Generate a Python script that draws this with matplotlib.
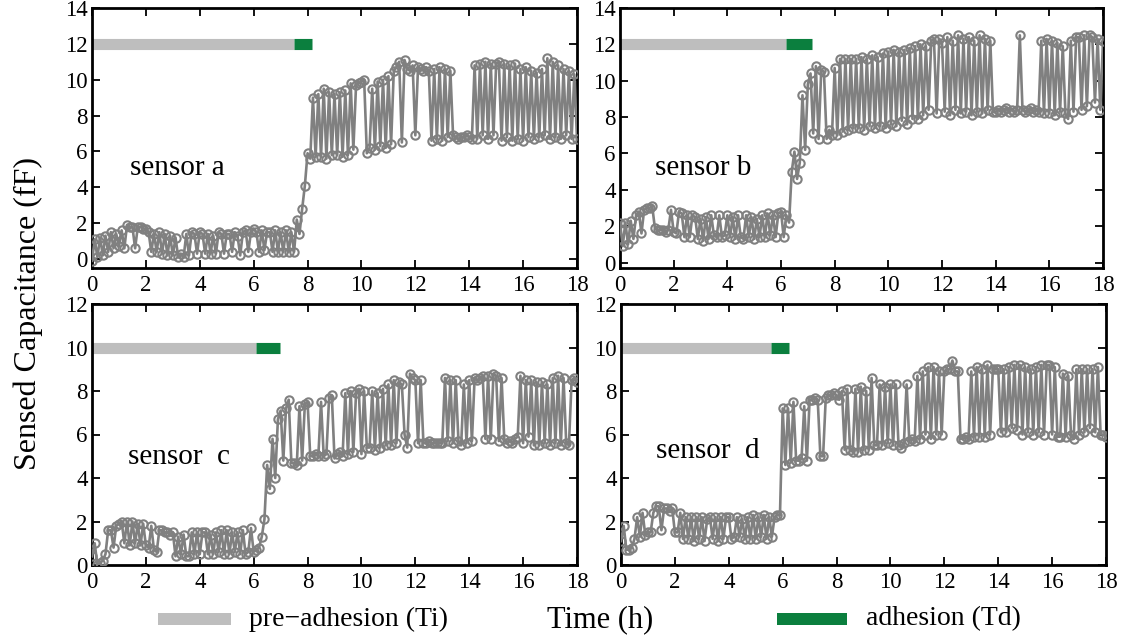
import numpy as np
import matplotlib
matplotlib.use("Agg")
import matplotlib.pyplot as plt
from matplotlib.patches import Rectangle

plt.rcParams['font.family'] = ['Liberation Serif', 'DejaVu Serif']

# ---------------- data ----------------
hours = np.linspace(0, 18, 181)

sensor_a = [
    -0.1, 1.1, 0.1, 1.2, 0.2, 1.3, 0.4, 1.5, 0.6, 1.4,
    0.7, 1.6, 0.6, 1.9, 1.8, 1.8, 0.6, 1.8, 1.8, 1.7,
    1.7, 1.5, 0.4, 1.4, 0.4, 1.5, 0.3, 1.4, 0.2, 1.3,
    0.2, 1.2, 0.1, 0.3, 0.1, 1.4, 0.2, 1.5, 1.4, 0.3,
    1.5, 1.4, 0.3, 1.4, 0.3, 1.3, 0.3, 1.5, 1.4, 0.3,
    1.4, 1.4, 0.4, 1.5, 1.3, 0.2, 1.5, 1.6, 0.4, 1.5,
    1.7, 1.5, 0.4, 1.6, 0.5, 1.5, 1.5, 0.4, 1.6, 0.4,
    1.5, 0.4, 1.6, 0.4, 1.5, 0.4, 2.2, 1.4, 2.8, 4.1,
    5.9, 5.6, 9.0, 5.7, 9.2, 5.7, 9.5, 5.6, 9.3, 5.8,
    9.2, 5.8, 9.3, 5.7, 9.4, 5.8, 9.8, 6.1, 9.7, 9.8,
    9.9, 10.0, 5.9, 6.2, 9.5, 6.1, 9.9, 6.3, 10.0, 6.2,
    10.2, 6.4, 10.5, 10.7, 11.0, 6.5, 11.1, 10.6, 10.5, 10.8,
    6.9, 10.7, 10.6, 10.5, 10.7, 10.5, 6.6, 10.6, 6.7, 10.7,
    6.6, 10.6, 6.8, 10.5, 6.9, 6.8, 6.7, 6.8, 6.8, 6.9,
    6.8, 6.7, 10.8, 6.7, 10.9, 6.9, 11.0, 6.7, 10.9, 6.9,
    10.9, 11.0, 6.6, 10.9, 6.8, 10.8, 6.6, 10.9, 6.7, 10.6,
    6.6, 10.7, 6.8, 10.5, 6.7, 10.4, 6.8, 10.6, 6.9, 11.2,
    6.7, 11.0, 6.8, 10.8, 6.7, 10.6, 6.9, 10.5, 6.7, 10.3,
    6.7,
]

sensor_b = [
    2.2, 0.9, 2.2, 1.0, 2.3, 1.3, 2.6, 2.8, 1.6, 2.9,
    3.0, 3.0, 3.1, 1.9, 1.8, 1.8, 1.8, 1.7, 1.8, 2.9,
    1.7, 1.6, 2.8, 2.7, 1.4, 2.6, 1.4, 2.6, 2.5, 1.3,
    2.4, 1.2, 2.5, 1.3, 2.6, 1.5, 1.4, 2.6, 1.4, 1.5,
    2.6, 1.4, 2.5, 1.3, 2.6, 1.4, 1.3, 2.6, 1.4, 2.5,
    1.3, 2.4, 1.4, 2.6, 1.4, 2.7, 1.5, 2.6, 1.4, 2.7,
    2.8, 1.4, 2.6, 2.2, 5.0, 6.1, 4.6, 5.5, 9.2, 6.2,
    9.8, 10.4, 7.1, 10.8, 6.8, 10.6, 10.5, 6.8, 7.3, 7.0,
    10.7, 7.0, 11.2, 7.2, 11.2, 7.3, 11.2, 7.4, 11.2, 7.4,
    11.3, 7.3, 11.2, 7.5, 11.4, 7.4, 11.3, 7.5, 11.5, 7.4,
    11.6, 7.6, 11.7, 7.5, 11.6, 7.8, 11.7, 7.6, 11.8, 7.9,
    11.9, 7.9, 12.0, 8.1, 11.9, 8.4, 12.2, 12.3, 8.2, 12.3,
    12.1, 8.3, 12.4, 8.1, 12.2, 8.4, 12.5, 8.2, 12.3, 8.3,
    12.4, 8.1, 12.2, 8.3, 12.5, 8.2, 12.3, 8.4, 12.2, 8.3,
    8.3, 8.4, 8.3, 8.4, 8.5, 8.3, 8.4, 8.3, 8.4, 12.5,
    8.4, 8.3, 8.4, 8.5, 8.3, 8.4, 8.3, 12.2, 8.2, 12.3,
    8.2, 12.2, 8.1, 12.1, 8.3, 11.9, 8.2, 7.9, 12.2, 8.3,
    12.4, 12.4, 8.4, 12.5, 8.6, 12.5, 12.4, 8.8, 12.3, 8.4,
    12.2,
]

sensor_c = [
    0.4, 1.0, 0.0, 0.1, 0.2, 0.5, 1.6, 1.6, 0.8, 1.8,
    1.9, 2.0, 1.0, 2.0, 0.9, 2.0, 1.0, 1.9, 0.9, 1.9,
    0.9, 0.8, 1.8, 0.7, 0.6, 1.6, 1.6, 1.5, 1.5, 1.4,
    1.5, 0.4, 1.3, 0.5, 1.4, 0.4, 0.4, 1.5, 0.5, 1.5,
    0.5, 1.5, 1.5, 0.5, 1.4, 0.5, 1.5, 0.6, 1.6, 0.5,
    1.6, 0.5, 1.5, 0.6, 1.5, 0.5, 1.6, 0.5, 0.6, 1.7,
    0.6, 0.7, 0.8, 1.3, 2.1, 4.6, 3.5, 5.8, 4.0, 6.7,
    7.1, 4.8, 7.2, 7.6, 4.7, 4.7, 4.6, 7.3, 4.8, 7.4,
    7.5, 5.0, 5.0, 5.1, 5.0, 7.5, 5.0, 5.1, 7.7, 7.8,
    4.9, 5.1, 5.2, 5.0, 7.9, 5.1, 8.0, 5.2, 7.9, 8.1,
    5.1, 8.0, 5.4, 5.4, 8.0, 5.3, 7.9, 5.4, 8.1, 5.5,
    8.3, 5.5, 8.5, 5.6, 8.4, 8.3, 6.0, 5.4, 8.8, 8.6,
    8.5, 5.6, 8.5, 5.6, 5.6, 5.7, 5.6, 5.6, 5.6, 5.6,
    5.6, 8.6, 5.7, 8.5, 5.6, 8.5, 5.7, 5.5, 8.3, 5.6,
    8.5, 5.7, 8.6, 8.5, 8.6, 8.7, 5.8, 8.7, 5.8, 8.8,
    8.7, 5.7, 8.6, 5.8, 5.6, 5.7, 5.6, 5.8, 5.9, 8.7,
    5.6, 8.5, 5.9, 8.5, 5.5, 8.4, 5.5, 8.4, 5.6, 8.3,
    5.5, 8.6, 5.6, 8.7, 5.5, 8.6, 5.6, 5.5, 8.5, 8.6,
    8.4,
]

sensor_d = [
    1.1, 1.8, 0.7, 0.7, 0.8, 1.2, 2.2, 1.3, 2.4, 1.4,
    1.5, 1.5, 2.4, 2.7, 2.7, 1.6, 2.6, 2.6, 2.5, 2.6,
    1.5, 1.5, 2.4, 1.2, 2.2, 1.2, 2.2, 1.1, 2.2, 1.2,
    2.2, 1.1, 2.1, 2.2, 1.2, 2.2, 1.1, 2.2, 1.2, 2.2,
    2.2, 1.2, 1.3, 2.2, 1.3, 2.1, 1.2, 2.2, 1.2, 2.3,
    1.2, 2.2, 1.3, 2.3, 1.2, 2.2, 1.3, 2.2, 2.3, 2.3,
    7.2, 4.6, 7.2, 4.7, 7.5, 4.8, 4.8, 4.9, 7.3, 4.8,
    7.6, 7.6, 7.7, 7.6, 5.0, 5.0, 7.7, 7.8, 7.8, 7.9,
    7.8, 7.6, 8.0, 5.3, 8.1, 5.3, 5.2, 8.1, 5.2, 8.2,
    5.3, 8.0, 5.3, 8.6, 5.5, 5.5, 8.3, 5.5, 8.2, 5.6,
    8.3, 5.5, 8.3, 5.5, 5.4, 5.6, 8.3, 5.7, 5.8, 5.7,
    8.7, 5.8, 8.9, 6.0, 9.1, 5.8, 9.1, 6.0, 8.9, 6.0,
    8.9, 9.0, 9.0, 9.4, 8.9, 8.9, 5.8, 5.8, 5.9, 5.8,
    8.9, 5.9, 9.1, 5.9, 9.0, 5.9, 9.2, 6.0, 9.0, 9.0,
    9.0, 6.1, 9.0, 6.1, 9.1, 6.3, 9.2, 6.2, 9.2, 6.0,
    9.1, 6.1, 9.0, 6.0, 9.1, 6.1, 9.2, 6.0, 9.2, 9.2,
    6.0, 9.1, 5.9, 5.9, 8.8, 5.9, 8.7, 6.0, 5.8, 9.0,
    6.0, 9.0, 6.1, 9.0, 6.3, 9.0, 6.1, 9.1, 6.0, 6.0,
    5.9,
]

series = [sensor_a, sensor_b, sensor_c, sensor_d]
sensor_labels = ["sensor a", "sensor b", "sensor  c", "sensor  d"]
pre_end = [7.5, 6.2, 6.1, 5.55]      # end of pre-adhesion (Ti)
adh_end = [8.15, 7.15, 6.97, 6.25]   # end of adhesion (Td)
bar_level = [12, 12, 10, 10]
y_max = [14, 14, 12, 12]
y_min = [-0.5, -0.3, 0, 0]
x_ticks = [0, 2, 4, 6, 8, 10, 12, 14, 16, 18]

# ---------------- style ----------------
W, H = 1135, 644
fig = plt.figure(figsize=(W / 100, H / 100), dpi=100)

line_gray = '#808080'
pre_gray = '#BEBEBE'
adh_green = '#0B7F3E'

# axes boxes in pixels (left, top, right, bottom)
boxes = [
    (92, 8, 577, 268),
    (620, 8, 1103, 268),
    (92, 304, 577, 565),
    (621, 304, 1106, 565),
]
label_pos = [(0.078, 0.385), (0.072, 0.385), (0.075, 0.415), (0.072, 0.437)]

for i, (l, t, r, b) in enumerate(boxes):
    ax = fig.add_axes([l / W, 1 - b / H, (r - l) / W, (b - t) / H])
    ax.plot(hours, series[i], color=line_gray, lw=1.9, marker='o',
            markersize=6, markerfacecolor='none', markeredgecolor=line_gray,
            markeredgewidth=1.5, zorder=3)
    ax.plot([0, pre_end[i]], [bar_level[i], bar_level[i]], color=pre_gray,
            lw=8, solid_capstyle='butt', zorder=2)
    ax.plot([pre_end[i], adh_end[i]], [bar_level[i], bar_level[i]],
            color=adh_green, lw=8, solid_capstyle='butt', zorder=2)
    ax.set_xlim(0, 18)
    ax.set_ylim(y_min[i], y_max[i])
    ax.set_xticks(x_ticks)
    ax.set_yticks(np.arange(0, y_max[i] + 1, 2))
    ax.tick_params(direction='in', length=6, width=1.3, labelsize=16.5,
                   top=True, right=True)
    ax.tick_params(axis='x', pad=5)
    ax.tick_params(axis='y', pad=3)
    for sp in ax.spines.values():
        sp.set_linewidth(2.0)
    ax.text(label_pos[i][0], label_pos[i][1], sensor_labels[i],
            transform=ax.transAxes, fontsize=21, ha='left', va='center')

# axis labels
fig.text(28 / W, 1 - 313 / H, "Sensed Capacitance (fF)", rotation=90,
         fontsize=23, ha='center', va='center')
fig.text(600 / W, 1 - 620 / H, "Time (h)", fontsize=22, ha='center', va='center')

# bottom legend
fig.add_artist(Rectangle((158 / W, 1 - 625 / H), 73 / W, 12 / H,
                         facecolor=pre_gray, edgecolor='none',
                         transform=fig.transFigure))
fig.text(249 / W, 1 - 619 / H, "pre\u2212adhesion (Ti)", fontsize=20,
         ha='left', va='center')
fig.add_artist(Rectangle((777 / W, 1 - 625 / H), 70 / W, 12 / H,
                         facecolor=adh_green, edgecolor='none',
                         transform=fig.transFigure))
fig.text(866 / W, 1 - 619 / H, "adhesion (Td)", fontsize=20,
         ha='left', va='center')

fig.savefig("out.png", dpi=100)
